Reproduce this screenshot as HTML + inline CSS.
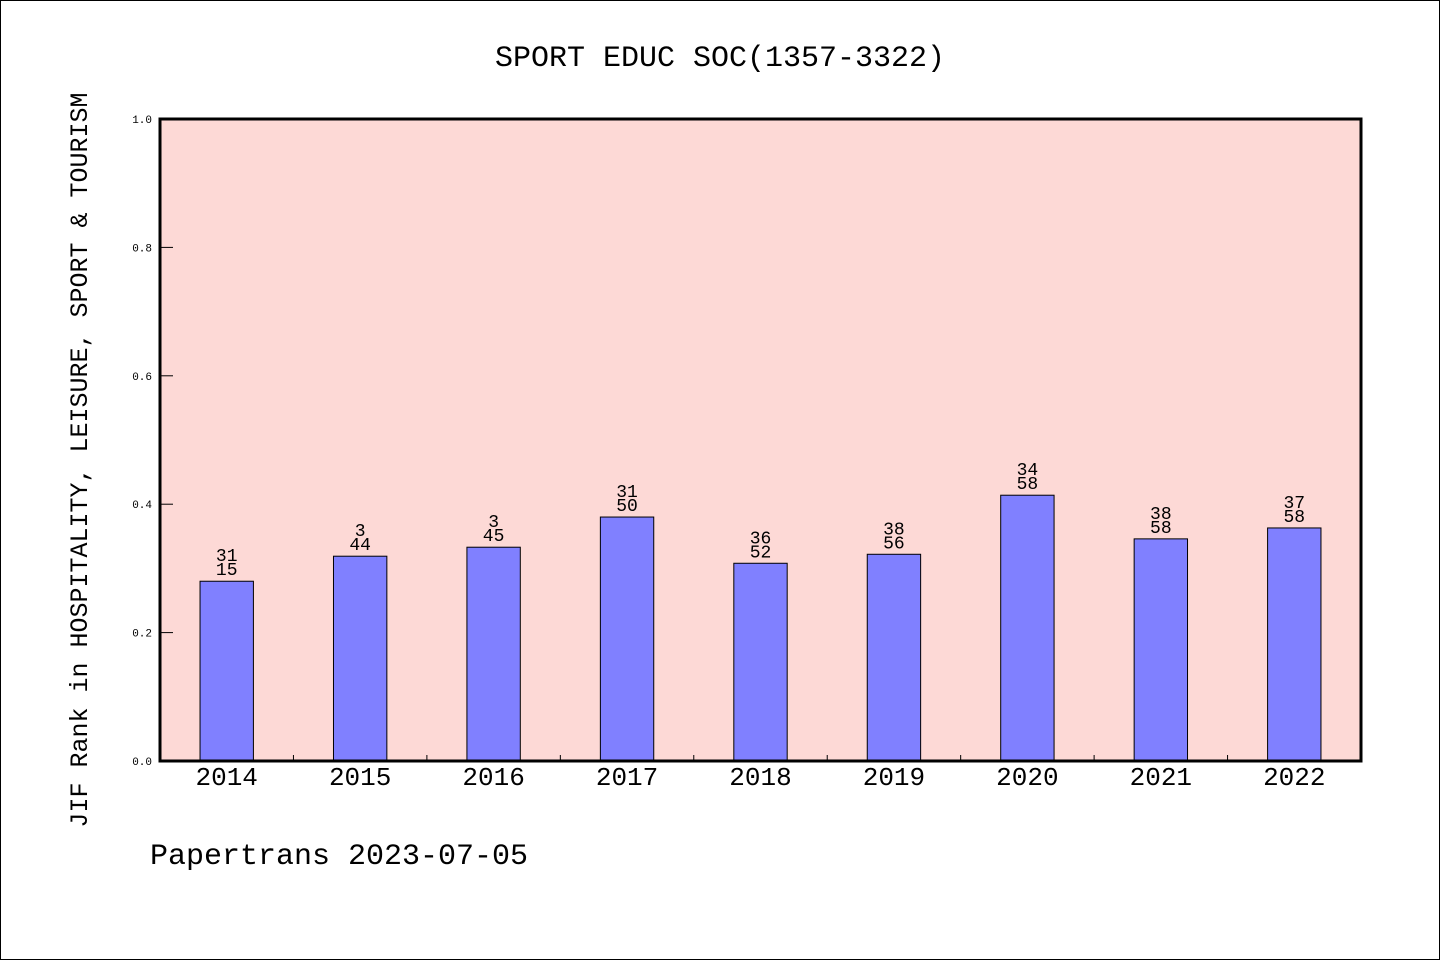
<!DOCTYPE html>
<html><head><meta charset="utf-8"><style>
body{margin:0;background:#fff}
svg{display:block}
text{font-family:"WenQuanYi Zen Hei Mono","WenQuanYi Zen Hei","Liberation Mono",monospace}
</style></head><body>
<svg id="c" width="1440" height="960" xmlns="http://www.w3.org/2000/svg">
<rect x="0.5" y="0.5" width="1439" height="959" fill="#fff" stroke="#000"/>
<text x="720" y="66" font-size="30" text-anchor="middle">SPORT EDUC SOC(1357-3322)</text>
<rect x="160" y="119" width="1201" height="642" fill="#fdd9d6"/>
<g id="marks"></g>
<rect x="160" y="119" width="1201" height="642" fill="none" stroke="#000" stroke-width="3"/>
<text transform="translate(87,460) rotate(-90)" font-size="25" text-anchor="middle">JIF Rank in HOSPITALITY, LEISURE, SPORT &amp; TOURISM</text>
<text x="150" y="864" font-size="30">Papertrans 2023-07-05</text>
</svg>
<script>
const categories=["2014","2015","2016","2017","2018","2019","2020","2021","2022"];
const values=[0.280,0.319,0.333,0.380,0.308,0.322,0.414,0.346,0.363];
const ranks=["31","3","3","31","36","38","34","38","37"];
const totals=["15","44","45","50","52","56","58","58","58"];
const yTicks=[0,0.2,0.4,0.6,0.8,1.0];
const yTickLabels=["0.0","0.2","0.4","0.6","0.8","1.0"];

const X0=160,W=1201,Y0=761,H=642;
const slot=W/categories.length;
const xc=i=>X0+slot*(i+0.5);
const y=v=>Y0-v*H;
const NS="http://www.w3.org/2000/svg";
const g=document.getElementById('marks');
function mk(t,a){const e=document.createElementNS(NS,t);for(const k in a)e.setAttribute(k,a[k]);return e;}

categories.forEach((c,i)=>{
  const bw=slot*0.4;
  const r=mk('rect',{x:xc(i)-bw/2,y:y(values[i]),width:bw,height:Y0-y(values[i]),fill:'#8080ff',stroke:'#000','stroke-width':1});
  
  
  g.appendChild(r);
  const t1=mk('text',{x:xc(i),y:y(values[i])-20,'font-size':18,'text-anchor':'middle'});
  t1.textContent=ranks[i];
  
  
  g.appendChild(t1);
  const t2=mk('text',{x:xc(i),y:y(values[i])-6,'font-size':18,'text-anchor':'middle'});
  t2.textContent=totals[i];
  
  
  g.appendChild(t2);
  const xl=mk('text',{x:xc(i),y:785,'font-size':26,'text-anchor':'middle'});
  xl.textContent=c;
  
  
  g.appendChild(xl);
  if(i>0){
    const tk=mk('line',{x1:X0+slot*i,x2:X0+slot*i,y1:Y0,y2:Y0-6,stroke:'#000'});
    
    
    g.appendChild(tk);
  }
});
yTicks.forEach((v,i)=>{
  const tk=mk('line',{x1:X0,x2:X0+13,y1:y(v),y2:y(v),stroke:'#000'});
  
  
  g.appendChild(tk);
  const tl=mk('text',{x:152,y:y(v)+4,'font-size':11,'text-anchor':'end'});
  tl.textContent=yTickLabels[i];
  
  
  g.appendChild(tl);
});
</script>
</body></html>
